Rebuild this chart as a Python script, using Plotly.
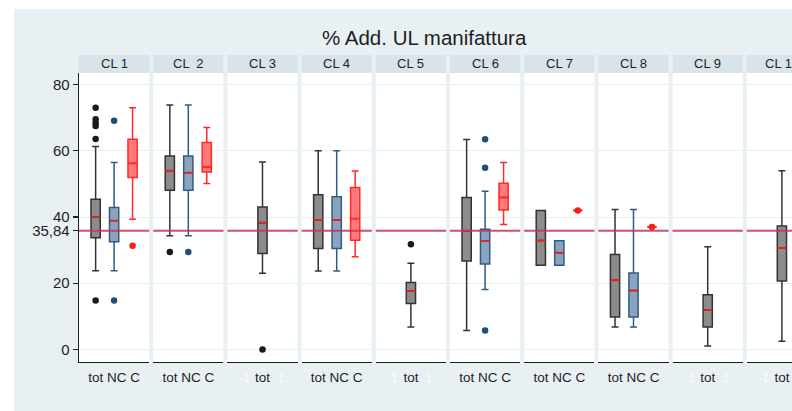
import plotly.graph_objects as go

# ---------------- data ----------------
clusters = ["CL 1", "CL  2", "CL 3", "CL 4", "CL 5", "CL 6", "CL 7", "CL 8", "CL 9", "CL 10"]
x_labels = ["tot NC C", "tot NC C", "tot", "tot NC C", "tot", "tot NC C", "tot NC C", "tot NC C", "tot", "tot"]
ref_value = 35.84
ref_label = "35,84"

tot_lower = [23.8, 34.3, 23.0, 23.7, 6.8, 5.7, 25.4, 6.8, 1.0, 2.5]
tot_q1 = [33.7, 48.1, 29.0, 30.5, 13.9, 26.7, 25.4, 9.8, 6.8, 20.7]
tot_median = [39.9, 54.0, 38.3, 39.1, 17.7, 35.8, 32.9, 20.9, 11.9, 30.7]
tot_q3 = [45.4, 58.4, 43.0, 46.7, 20.2, 45.9, 42.0, 28.7, 16.5, 37.3]
tot_upper = [61.3, 73.8, 56.6, 60.0, 26.0, 63.4, 42.0, 42.3, 31.0, 54.0]
tot_outliers = [[73.0, 69.5, 68.5, 67.5, 63.6, 14.8], [29.4], [0.0], [], [31.8], [], [], [], [], []]

nc_lower = [23.8, 34.3, None, 23.7, None, 18.1, 25.4, 6.8, None, None]
nc_q1 = [32.5, 48.1, None, 30.5, None, 25.8, 25.4, 9.8, None, None]
nc_median = [38.9, 53.4, None, 39.1, None, 32.8, 29.2, 17.8, None, None]
nc_q3 = [42.9, 58.4, None, 46.1, None, 36.3, 32.8, 23.1, None, None]
nc_upper = [56.5, 73.8, None, 60.0, None, 47.8, 32.8, 42.3, None, None]
nc_outliers = [[69.1, 14.8], [29.4], [], [], [], [63.5, 54.9, 5.7], [], [], [], []]

c_lower = [39.3, 50.1, None, 28.0, None, 37.7, 42.0, 37.0, None, None]
c_q1 = [51.9, 53.6, None, 33.0, None, 42.1, 42.0, 37.0, None, None]
c_median = [56.2, 55.1, None, 39.5, None, 45.9, 42.0, 37.0, None, None]
c_q3 = [63.5, 62.5, None, 48.9, None, 50.2, 42.0, 37.0, None, None]
c_upper = [73.0, 67.0, None, 53.9, None, 56.5, 42.0, 37.0, None, None]
c_outliers = [[31.3], [], [], [], [], [], [42.0], [37.0], [], []]

y_ticks = [0, 20, 40, 60, 80]

# ---------------- styling ----------------
FONT = "Liberation Sans, Arial, sans-serif"
W, H = 792, 411
ML, MR, MT, MB = 79, 0, 73, 49
PW, PH = W - ML - MR, H - MT - MB
STRIDE, PANEL_W = 74.2, 70.2
HALF = 1.9
BG = "#e8f0f3"
HEADER = "#d8e4ea"
GRID = "#e8eff1"

styles = {
    "tot": dict(fill="#8c8c8c", line="#333333", marker="#1a1a1a"),
    "NC": dict(fill="#8ba4be", line="#2e5b88", marker="#1f4e79"),
    "C": dict(fill="#ff7a7a", line="#ff2a2a", marker="#ff1a1a"),
}
MEDIAN_RED = "#e32222"
BOXW = 0.5

fig = go.Figure()


def add_box(axn, pos, lo, q1, med, q3, up, outs, key):
    st = styles[key]
    xa = "x" if axn == 1 else f"x{axn}"
    ya = "y" if axn == 1 else f"y{axn}"
    fig.add_trace(go.Box(
        x=[pos], q1=[q1], median=[med], q3=[q3], lowerfence=[lo], upperfence=[up],
        width=BOXW, whiskerwidth=0.75, fillcolor=st["fill"],
        line=dict(color=st["line"], width=1.5), boxpoints=False,
        xaxis=xa, yaxis=ya, showlegend=False, hoverinfo="skip"))
    # median bar (red)
    fig.add_trace(go.Box(
        x=[pos], q1=[med], median=[med], q3=[med], lowerfence=[med], upperfence=[med],
        width=BOXW, whiskerwidth=0, fillcolor="rgba(0,0,0,0)",
        line=dict(color=MEDIAN_RED if key != "C" else st["line"], width=1.8), boxpoints=False,
        xaxis=xa, yaxis=ya, showlegend=False, hoverinfo="skip"))
    if outs:
        fig.add_trace(go.Scatter(
            x=[pos] * len(outs), y=outs, mode="markers",
            marker=dict(color=st["marker"], size=6.5),
            xaxis=xa, yaxis=ya, showlegend=False, hoverinfo="skip"))


shapes = []
annotations = []

# white outer strips
shapes.append(dict(type="rect", xref="paper", yref="paper", x0=-ML / PW - 0.01, x1=(14 - ML) / PW,
                   y0=-MB / PH - 0.01, y1=(H - MB) / PH + 0.01, fillcolor="white", line_width=0, layer="below"))
shapes.append(dict(type="rect", xref="paper", yref="paper", x0=-ML / PW - 0.01, x1=1.01,
                   y0=(H - MB - 9) / PH, y1=(H - MB) / PH + 0.01, fillcolor="white", line_width=0, layer="below"))

FAINT = "<span style='color:rgba(255,255,255,0.75)'>%s</span>"

layout_axes = {}
for i, cl in enumerate(clusters):
    n = i + 1
    start_px = STRIDE * i
    end_px = start_px + PANEL_W
    d0 = start_px / PW
    d1 = min(end_px / PW, 1.0)
    visible = min(end_px, PW) - start_px
    r1 = -HALF + visible * (2 * HALF) / PANEL_W
    xkey = "xaxis" if n == 1 else f"xaxis{n}"
    ykey = "yaxis" if n == 1 else f"yaxis{n}"
    ticktext = [FAINT % "-1", FAINT % "1", x_labels[i]]
    layout_axes[xkey] = dict(domain=[d0, d1], range=[-HALF, r1], anchor="y" if n == 1 else f"y{n}",
                             showgrid=False, zeroline=False, showline=True, linecolor="#1e1e1e", linewidth=1.3,
                             ticks="", tickvals=[-1, 1, 0], ticktext=ticktext, tickangle=0,
                             automargin=False, ticklabelstandoff=2,
                             tickfont=dict(family=FONT, size=13.5, color="#1e1e1e"), fixedrange=True)
    yd = dict(domain=[0, 1], range=[-3.8, 83.5], anchor="x" if n == 1 else f"x{n}",
              showgrid=True, gridcolor=GRID, gridwidth=1, zeroline=False, fixedrange=True,
              automargin=False,
              tickvals=y_ticks + [ref_value], ticktext=[str(t) for t in y_ticks] + [ref_label])
    if n == 1:
        yd.update(showticklabels=True, showline=True, linecolor="#1e1e1e", linewidth=1.3,
                  ticks="outside", ticklen=5, tickcolor="#1e1e1e", tickwidth=1.2,
                  tickfont=dict(family=FONT, size=15, color="#1e1e1e"))
    else:
        yd.update(showticklabels=False, showline=False, ticks="")
    layout_axes[ykey] = yd

    # header
    shapes.append(dict(type="rect", xref="paper", yref="paper", x0=d0, x1=end_px / PW,
                       y0=1.0, y1=1.0 + 18 / PH, fillcolor=HEADER, line_width=0, layer="below"))
    annotations.append(dict(text=cl, xref="paper", yref="paper", x=(start_px + PANEL_W / 2) / PW,
                            y=1.0 + 9.5 / PH, showarrow=False, xanchor="center", yanchor="middle",
                            font=dict(family=FONT, size=13, color="#1e1e1e")))
    # reference line
    shapes.append(dict(type="line", xref=("x" if n == 1 else f"x{n}") + " domain", yref="y" if n == 1 else f"y{n}",
                       x0=0, x1=1, y0=ref_value, y1=ref_value,
                       line=dict(color="rgba(196,52,88,0.85)", width=2), layer="above"))

    has_groups = nc_q1[i] is not None
    tot_pos = -1 if has_groups else 0
    add_box(n, tot_pos, tot_lower[i], tot_q1[i], tot_median[i], tot_q3[i], tot_upper[i], tot_outliers[i], "tot")
    if has_groups:
        add_box(n, 0, nc_lower[i], nc_q1[i], nc_median[i], nc_q3[i], nc_upper[i], nc_outliers[i], "NC")
        add_box(n, 1, c_lower[i], c_q1[i], c_median[i], c_q3[i], c_upper[i], c_outliers[i], "C")

annotations.append(dict(text="% Add. UL manifattura", xref="paper", yref="paper",
                        x=(424.5 - ML) / PW, y=(H - MB - 38) / PH, showarrow=False,
                        xanchor="center", yanchor="middle",
                        font=dict(family=FONT, size=20.5, color="#1e1e1e")))

fig.update_layout(
    width=W, height=H, margin=dict(l=ML, r=MR, t=MT, b=MB, pad=0, autoexpand=False),
    paper_bgcolor=BG, plot_bgcolor="white", boxmode="overlay",
    shapes=shapes, annotations=annotations, showlegend=False,
    **layout_axes)

fig.write_html("out.html", config={"displayModeBar": False, "staticPlot": True},
               post_script="document.body.style.margin='0';document.body.style.overflow='hidden';")
